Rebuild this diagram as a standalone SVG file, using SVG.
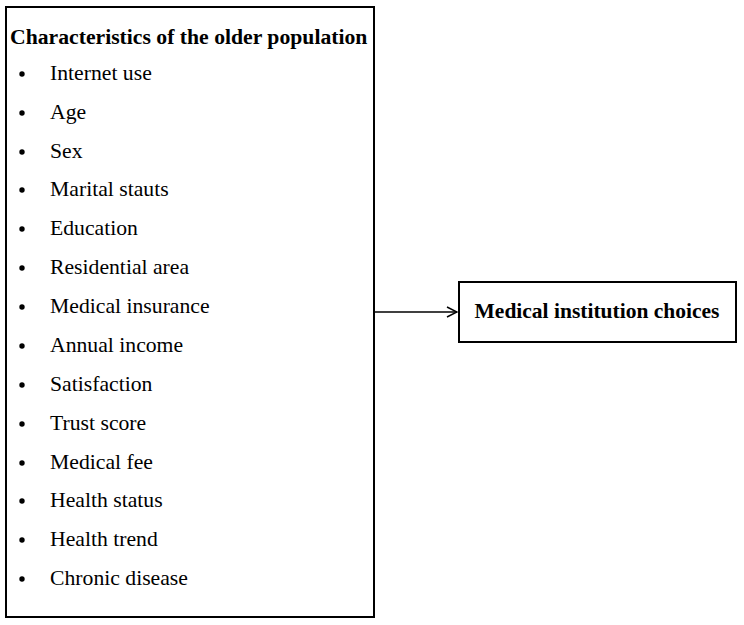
<svg xmlns="http://www.w3.org/2000/svg" width="744" height="625" viewBox="0 0 744 625">
<style>
.box{fill:#fff;stroke:#000;stroke-width:2}
.t{font-family:"Liberation Serif","Times New Roman",serif;fill:#000}
.h{font-weight:bold;font-size:21.7px}
.i{font-size:21.7px}
.b{fill:#000}
</style>
<defs>
<marker id="ah" markerWidth="12" markerHeight="12" refX="11" refY="6" orient="auto" markerUnits="userSpaceOnUse">
<path d="M1,1 L11,6 L1,11" fill="none" stroke="#000" stroke-width="1.5"/>
</marker>
</defs>
<rect width="744" height="625" fill="#fff"/>
<g id="characteristics">
<rect class="box" x="6" y="7" width="368" height="610"/>
<text class="t h" x="10" y="44">Characteristics of the older population</text>
<g class="t i">
<text x="50" y="80">Internet use</text>
<text x="50" y="119">Age</text>
<text x="50" y="158">Sex</text>
<text x="50" y="196">Marital stauts</text>
<text x="50" y="235">Education</text>
<text x="50" y="274">Residential area</text>
<text x="50" y="313">Medical insurance</text>
<text x="50" y="352">Annual income</text>
<text x="50" y="391">Satisfaction</text>
<text x="50" y="430">Trust score</text>
<text x="50" y="469">Medical fee</text>
<text x="50" y="507">Health status</text>
<text x="50" y="546">Health trend</text>
<text x="50" y="585">Chronic disease</text>
</g>
<g class="b">
<circle cx="22" cy="74" r="2.7"/>
<circle cx="22" cy="113" r="2.7"/>
<circle cx="22" cy="152" r="2.7"/>
<circle cx="22" cy="190" r="2.7"/>
<circle cx="22" cy="229" r="2.7"/>
<circle cx="22" cy="268" r="2.7"/>
<circle cx="22" cy="307" r="2.7"/>
<circle cx="22" cy="346" r="2.7"/>
<circle cx="22" cy="385" r="2.7"/>
<circle cx="22" cy="424" r="2.7"/>
<circle cx="22" cy="463" r="2.7"/>
<circle cx="22" cy="501" r="2.7"/>
<circle cx="22" cy="540" r="2.7"/>
<circle cx="22" cy="579" r="2.7"/>
</g>
</g>
<g id="choices">
<rect class="box" x="459" y="282" width="277" height="60" stroke-width="1.5"/>
<text class="t" x="597" y="318" text-anchor="middle" font-size="21.5" font-weight="bold">Medical institution choices</text>
</g>
<g id="connectors">
<line x1="374" y1="312" x2="457" y2="312" stroke="#000" stroke-width="1.5" marker-end="url(#ah)"/>
</g>
</svg>
